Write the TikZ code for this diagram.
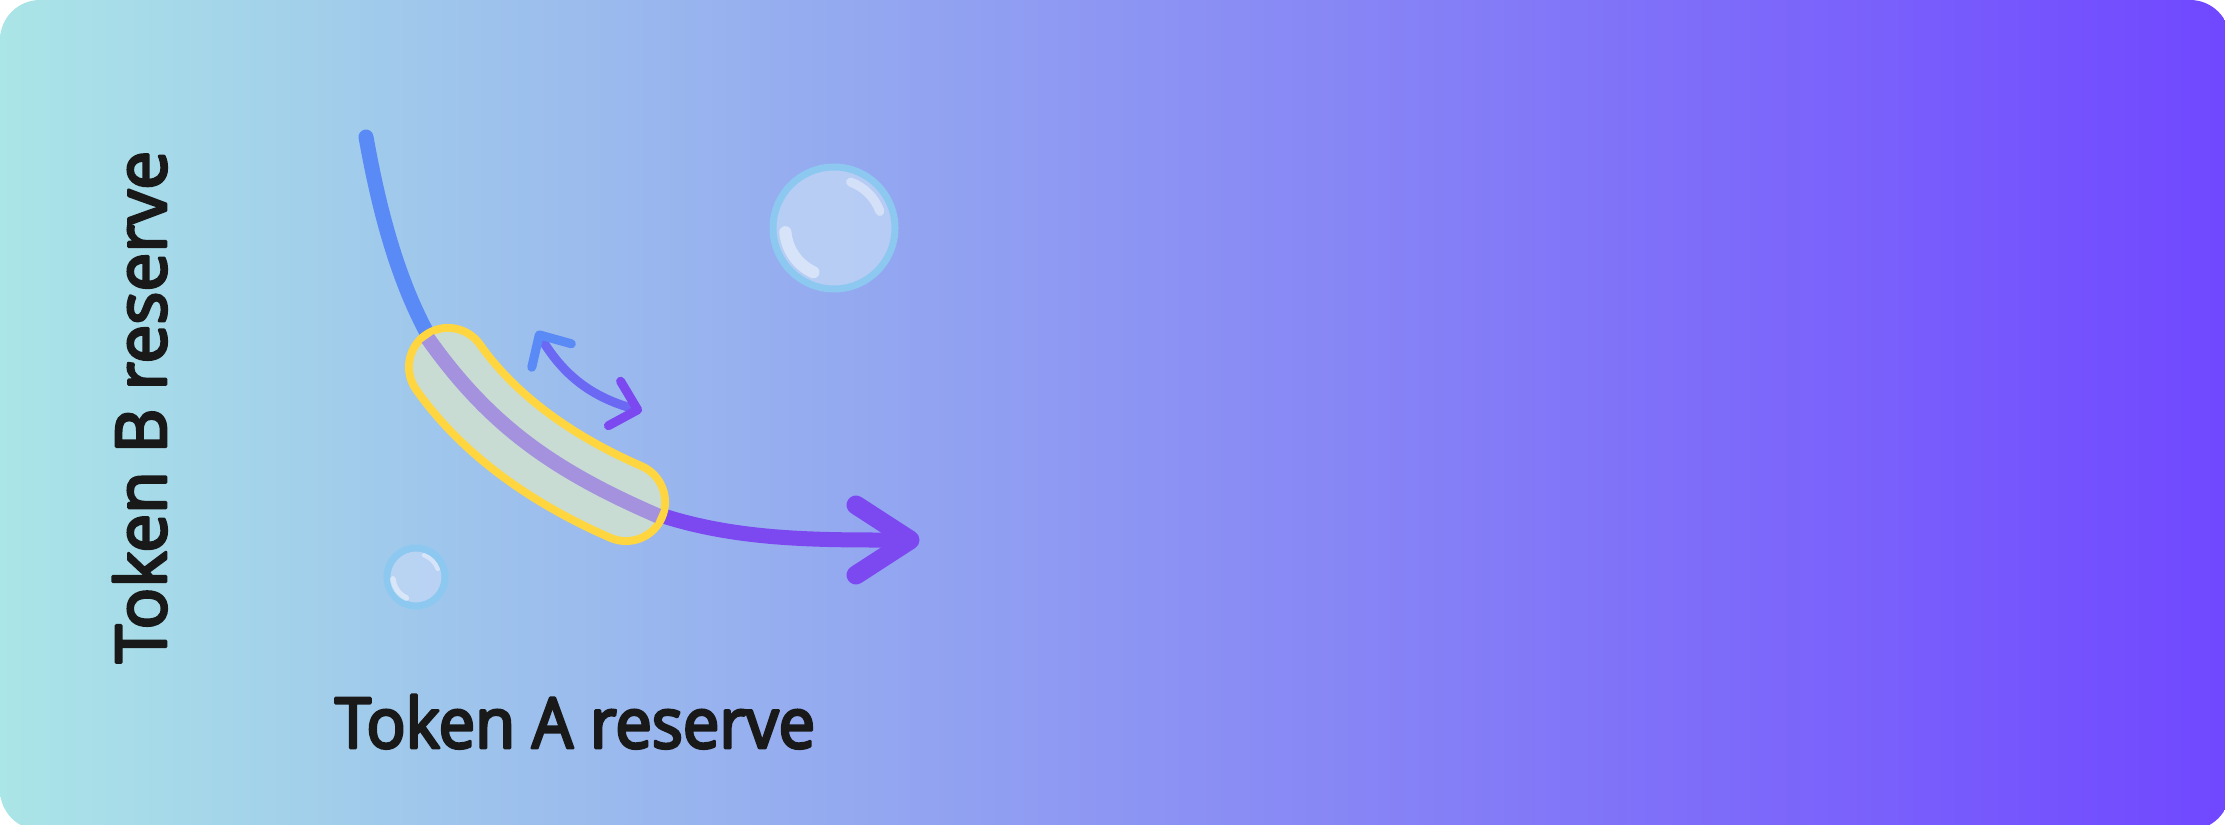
\documentclass[tikz,border=0pt]{standalone}
\usepackage{fontspec}
\setmainfont{Open Sans}
\newfontfamily\labelfont{Open Sans}[FakeBold=4,FakeStretch=0.93]
\usetikzlibrary{arrows.meta}
\definecolor{bgleft}{RGB}{170,229,231}
\definecolor{bgright}{RGB}{112,71,255}
\definecolor{curveblue}{RGB}{90,138,245}
\definecolor{curvepurple}{RGB}{124,72,240}
\definecolor{swapmid}{RGB}{107,104,243}
\definecolor{bandyellow}{RGB}{255,214,64}
\definecolor{bandfill}{RGB}{200,220,212}
\definecolor{bandline}{RGB}{164,146,222}
\definecolor{bubblerim}{RGB}{140,200,240}
\definecolor{bubblefill}{RGB}{192,214,246}
\begin{document}
\begin{tikzpicture}[x=0.01cm,y=-0.01cm,line join=round,line cap=round,
		curve/.style={line width=1.5mm},
		axislabel/.style={font=\labelfont\fontsize{19.9}{24}\selectfont,text=black!90,inner sep=0pt}]
	\useasboundingbox (0,0) rectangle (2225,825);
	\shade[left color=bgleft,right color=bgright,rounded corners=4mm] (0,0) rectangle (2230,830);
	% bubbles
	\foreach \cx/\cy/\r in {834/228/61,416/577/29}{
		\fill[bubblefill,opacity=.8] (\cx,\cy) circle (\r);
		\draw[bubblerim,line width=.7mm] (\cx,\cy) circle (\r);
		\draw[white,opacity=.45,line width={.02*\r mm}] (\cx,\cy) ++(115:{.8*\r}) arc[start angle=115,end angle=175,radius={.8*\r}];
		\draw[white,opacity=.4,line width={.015*\r mm}] (\cx,\cy) ++(290:{.8*\r}) arc[start angle=290,end angle=340,radius={.8*\r}];
	}
	% curve
	\coordinate (start) at (366,137);
	\coordinate (bandtop) at (448,367);
	\coordinate (bandend) at (626,502);
	\coordinate (tip) at (910,540);
	\draw[curve,curveblue] (start) .. controls (380,215) and (402,302) .. (bandtop);
	\draw[curve,curvepurple] (bandend) .. controls (718,542) and (813,540) .. (tip);
	\draw[curvepurple,line width=1.9mm] (tip) ++(-54,-35) -- (tip) -- ++(-54,35);
	% band on the curve
	\draw[bandyellow,line width=8.6mm] (bandtop) .. controls (491,428) and (557,472) .. (bandend);
	\draw[bandfill,line width=7mm] (bandtop) .. controls (491,428) and (557,472) .. (bandend);
	\draw[curve,bandline,line cap=butt,shorten <=-3.5mm,shorten >=-3.5mm] (bandtop) .. controls (491,428) and (557,472) .. (bandend);
	% swap arrow
	\coordinate (swapa) at (537,331);
	\coordinate (swapb) at (642,411);
	\draw[line width=.9mm,swapmid,{Straight Barb[round,length=2.4mm,width=4.6mm,line width=.9mm,color=curveblue]}-{Straight Barb[round,length=2.4mm,width=4.6mm,line width=.9mm,color=curvepurple]}] (swapa) to[bend right=22] (swapb);
	\node[axislabel,anchor=base] (alabel) at (575,748) {Token A reserve};
	\node[axislabel,anchor=base,rotate=90] (blabel) at (166,407) {\addfontfeature{FakeStretch=0.99}Token B reserve};
\end{tikzpicture}
\end{document}
